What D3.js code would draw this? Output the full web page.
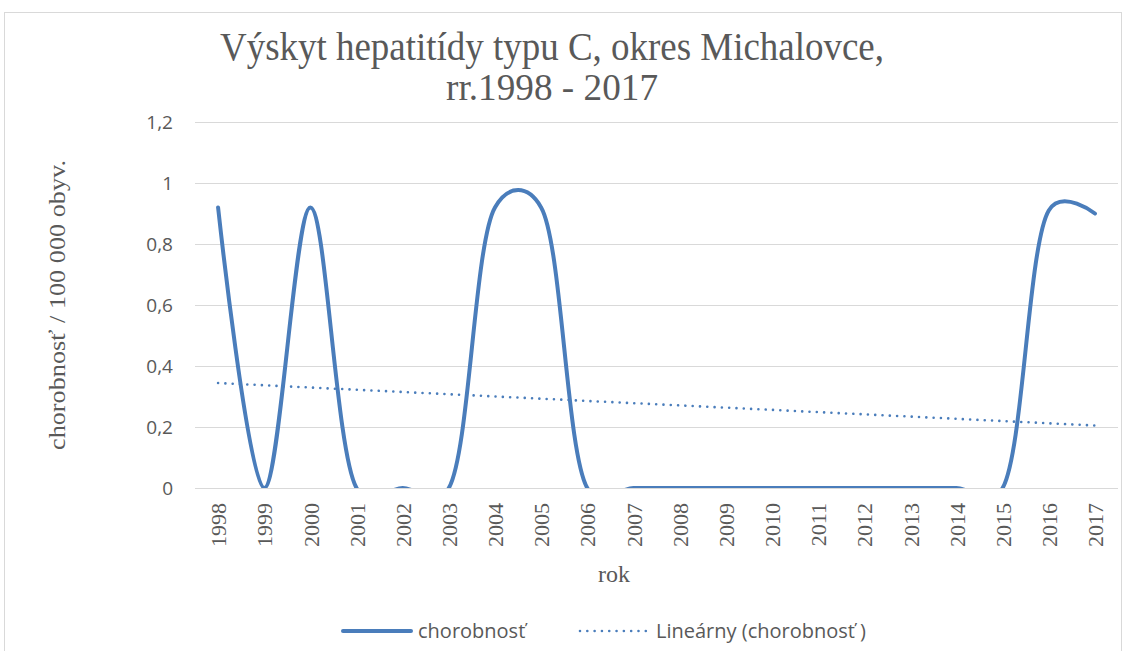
<!DOCTYPE html>
<html>
<head>
<meta charset="utf-8">
<script src="https://cdn.jsdelivr.net/npm/d3@7"></script>
<style>
  body { margin: 0; background: #fff; }
  svg { display: block; }
</style>
</head>
<body>
<svg></svg>
<script>
// -------------------------------------------------------------
const width = 1127;
const height = 651;

const years = ['1998', '1999', '2000', '2001', '2002', '2003', '2004', '2005', '2006', '2007',
               '2008', '2009', '2010', '2011', '2012', '2013', '2014', '2015', '2016', '2017'];
const chorobnost = [0.92, 0, 0.92, 0, 0, 0, 0.92, 0.92, 0, 0,
                    0, 0, 0, 0, 0, 0, 0, 0, 0.91, 0.90];
const yTicks = [0, 0.2, 0.4, 0.6, 0.8, 1, 1.2];
const titleLines = ['Výskyt  hepatitídy  typu  C,  okres  Michalovce,', 'rr.1998  - 2017'];
const legendLabels = ['chorobnosť', 'Lineárny (chorobnosť )'];

const margin = { left: 195, right: 1118, top: 122, bottom: 488 };
const blue = '#4a7dbb';
const gray = '#595959';

const svg = d3.select('svg').attr('width', width).attr('height', height);

const x = d3.scalePoint().domain(years).range([margin.left, margin.right]).padding(0.5);
const y = d3.scaleLinear().domain([0, 1.2]).range([margin.bottom, margin.top]);
const fmt = d => d3.format('~g')(d).replace('.', ',');

// chart border
svg.append('rect')
  .attr('x', 4.5).attr('y', 12.5)
  .attr('width', 1117).attr('height', 660)
  .attr('fill', 'none')
  .attr('stroke', '#d9d9d9');

// title (tall, narrow glyphs as in the original)
const titleFit = [
  { size: 40, len: 664, base: 60 },
  { size: 38, len: 212, base: 100 }
];
svg.append('g').selectAll('text')
  .data(titleLines)
  .enter().append('text')
  .attr('x', 552)
  .attr('y', (d, i) => titleFit[i].base)
  .attr('text-anchor', 'middle')
  .attr('textLength', (d, i) => titleFit[i].len)
  .attr('lengthAdjust', 'spacingAndGlyphs')
  .style('font-family', '"Liberation Serif", serif')
  .style('font-size', (d, i) => titleFit[i].size + 'px')
  .style('fill', gray)
  .text(d => d);

// -------------------------------------------------------------
// gridlines + y labels
const yAxis = svg.append('g')
  .attr('transform', `translate(${margin.left},0)`)
  .call(d3.axisLeft(y).tickValues(yTicks).tickFormat(fmt).tickSize(-(margin.right - margin.left)).tickPadding(22));
yAxis.select('.domain').remove();
yAxis.selectAll('.tick line').attr('stroke', '#d9d9d9').attr('stroke-width', 1);
yAxis.selectAll('.tick text')
  .style('font-family', '"Open Sans", sans-serif')
  .style('font-size', '19px')
  .style('fill', gray);

// x labels
const xAxis = svg.append('g')
  .attr('transform', `translate(0,${margin.bottom})`)
  .call(d3.axisBottom(x).tickSize(0));
xAxis.select('.domain').remove();
xAxis.selectAll('.tick text')
  .attr('transform', 'rotate(-90)')
  .attr('x', -15)
  .attr('y', 0)
  .attr('dy', '0.35em')
  .attr('text-anchor', 'end')
  .style('font-family', '"Liberation Serif", serif')
  .style('font-size', '22px')
  .style('fill', gray);

// axis titles
svg.append('text')
  .attr('x', 614).attr('y', 582)
  .attr('text-anchor', 'middle')
  .style('font-family', '"Liberation Serif", serif')
  .style('font-size', '24px')
  .style('fill', gray)
  .text('rok');

svg.append('text')
  .attr('transform', 'translate(65,305) rotate(-90)')
  .attr('text-anchor', 'middle')
  .attr('textLength', 290)
  .attr('lengthAdjust', 'spacingAndGlyphs')
  .style('font-family', '"Liberation Serif", serif')
  .style('font-size', '24px')
  .style('fill', gray)
  .text('chorobnosť / 100 000 obyv.');

// -------------------------------------------------------------
// series
svg.append('clipPath').attr('id', 'plot')
  .append('rect')
  .attr('x', margin.left).attr('y', margin.top - 10)
  .attr('width', margin.right - margin.left).attr('height', margin.bottom - margin.top + 10);

const pts = years.map((yr, i) => [yr, chorobnost[i]]);

const line = d3.line()
  .x(d => x(d[0]))
  .y(d => y(d[1]))
  .curve(d3.curveCatmullRom.alpha(0.25));

svg.append('path')
  .datum(pts)
  .attr('clip-path', 'url(#plot)')
  .attr('d', line)
  .attr('fill', 'none')
  .attr('stroke', blue)
  .attr('stroke-width', 4)
  .attr('stroke-linecap', 'round')
  .attr('stroke-linejoin', 'round');

// linear trend (least squares over category index)
const idx = years.map((d, i) => i);
const mx = d3.mean(idx), my = d3.mean(chorobnost);
const slope = d3.sum(idx, i => (i - mx) * (chorobnost[i] - my)) / d3.sum(idx, i => (i - mx) ** 2);
const icpt = my - slope * mx;
const trend = [years[0], years[years.length - 1]].map(yr => [yr, icpt + slope * years.indexOf(yr)]);

svg.append('path')
  .datum(trend)
  .attr('d', d3.line().x(d => x(d[0])).y(d => y(d[1])))
  .attr('fill', 'none')
  .attr('stroke', blue)
  .attr('stroke-width', 2.6)
  .attr('stroke-linecap', 'round')
  .attr('stroke-dasharray', '0.01 7.3');

// -------------------------------------------------------------
// legend
const legend = svg.append('g').attr('transform', 'translate(0,631)');
legend.append('line')
  .attr('x1', 343).attr('x2', 411)
  .attr('stroke', blue).attr('stroke-width', 4).attr('stroke-linecap', 'round');
legend.append('line')
  .attr('x1', 580).attr('x2', 650)
  .attr('stroke', blue).attr('stroke-width', 2.6).attr('stroke-linecap', 'round')
  .attr('stroke-dasharray', '0.01 7.3');
legend.selectAll('text')
  .data(legendLabels)
  .enter().append('text')
  .attr('x', (d, i) => [418, 656][i])
  .attr('dy', '0.35em')
  .style('font-family', '"Open Sans", sans-serif')
  .style('font-size', '20px')
  .style('fill', gray)
  .text(d => d);
</script>
</body>
</html>
